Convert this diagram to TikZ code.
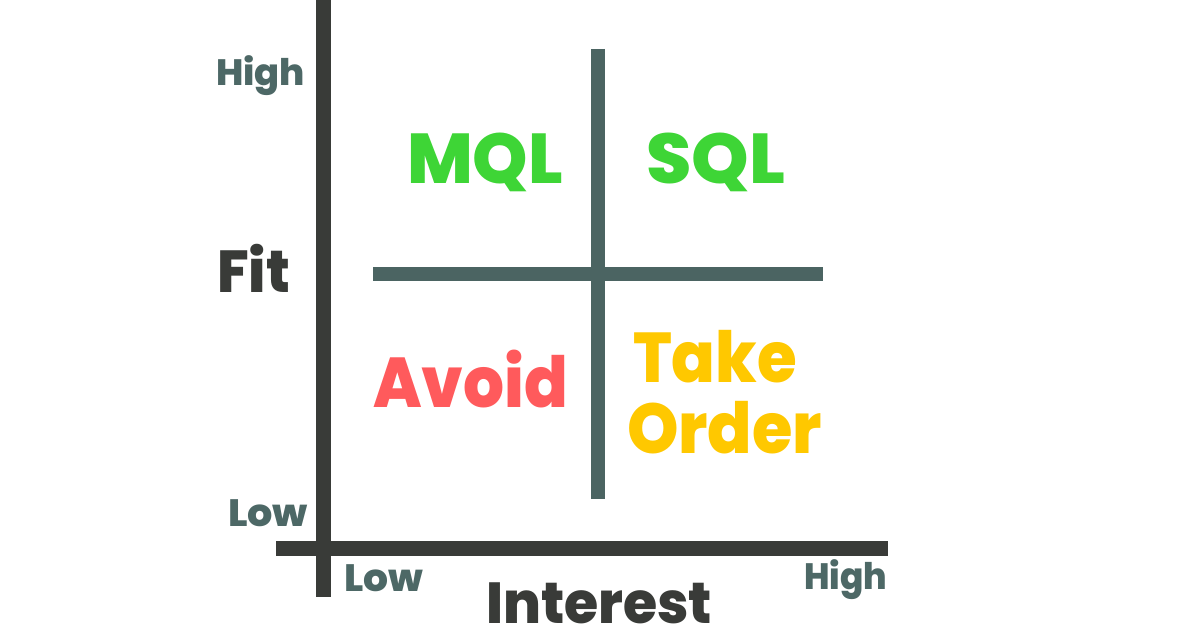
\documentclass[tikz,border=0pt]{standalone}
\usepackage{fontspec}
\setmainfont{Poppins}[BoldFont={* ExtraBold}]
\usepackage{graphicx}
\definecolor{axisc}{HTML}{393B38}
\definecolor{quadc}{HTML}{4B6462}
\definecolor{lblc}{HTML}{4D6866}
\definecolor{greenc}{HTML}{3ED536}
\definecolor{redc}{HTML}{FF5A5C}
\definecolor{yellowc}{HTML}{FFC800}
\newsavebox\tbox
\newdimen\capht
% #1 cap height, #2 target width, #3 text
\newcommand\fittext[3]{%
  \begingroup
  \fontsize{10pt}{12pt}\selectfont\bfseries
  \capht=\fontcharht\font`H\relax
  \pgfmathsetmacro\fs{10*#1/\capht}%
  \fontsize{\fs pt}{\fs pt}\selectfont\bfseries
  \sbox\tbox{#3}%
  \pgfmathsetmacro\xs{#2/\wd\tbox}%
  \scalebox{\xs}[1]{\usebox\tbox}%
  \endgroup}
\tikzset{
  axisline/.style={line width=15pt, draw=axisc, line cap=butt},
  quadline/.style={line width=14.5pt, draw=quadc, line cap=butt},
  word/.style={anchor=base west, inner sep=0pt, outer sep=0pt},
}
\begin{document}
\begin{tikzpicture}[x=1pt,y=-1pt]
\useasboundingbox[fill=white] (0,0) rectangle (1200,628);
% axes
\coordinate (yt) at (323.5,0);
\coordinate (yb) at (323.5,597);
\coordinate (xl) at (276,548.5);
\coordinate (xr) at (888,548.5);
\draw[axisline] (yt) -- (yb);
\draw[axisline] (xl) -- (xr);
% quadrant lines
\coordinate (qt) at (598,49);
\coordinate (qb) at (598,499);
\coordinate (ql) at (373,274);
\coordinate (qr) at (823,274);
\draw[quadline] (qt) -- (qb);
\draw[quadline] (ql) -- (qr);
% axis labels
\node[word, text=lblc] (yhigh) at (216,86) {\fittext{26}{89}{High}};
\node[word, text=lblc] (ylow) at (228,526) {\fittext{27}{80}{Low}};
\node[word, text=lblc] (xlow) at (344,591) {\fittext{27}{79}{Low}};
\node[word, text=lblc] (xhigh) at (804,589) {\fittext{26}{83}{High}};
\node[word, text=axisc] (fit) at (217,293) {\fittext{42}{73}{Fit}};
\node[word, text=axisc] (interest) at (486,623) {\fittext{41}{226}{Interest}};
% quadrant labels
\node[word, text=greenc] (mql) at (407,184) {\fittext{50}{156}{MQL}};
\node[word, text=greenc] (sql) at (646,184) {\fittext{50}{139}{SQL}};
\node[word, text=redc] (avoid) at (373,407) {\fittext{50}{195}{Avoid}};
\node[word, text=yellowc] (take) at (633,383) {\fittext{50}{164}{Take}};
\node[word, text=yellowc] (order) at (627,453) {\fittext{50}{195}{Order}};
\end{tikzpicture}
\end{document}
